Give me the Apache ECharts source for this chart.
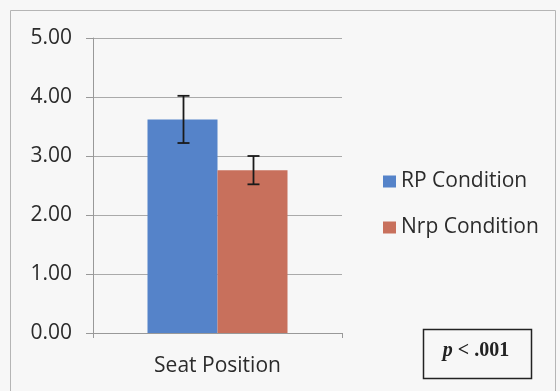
<!DOCTYPE html>
<html><head><meta charset="utf-8">
<script src="https://cdn.jsdelivr.net/npm/echarts@6/dist/echarts.min.js"></script>
<style>html,body{margin:0;padding:0;background:#f7f7f7;}#c{width:560px;height:391px;}</style>
</head><body><div id="c"></div>
<script>
const categories = ['Seat Position'];
const seriesNames = ['RP Condition', 'Nrp Condition'];
const rpValues = [3.62];
const nrpValues = [2.76];
const rpErrLow = [3.22];
const rpErrHigh = [4.02];
const nrpErrLow = [2.52];
const nrpErrHigh = [3.00];
const yTicks = [0, 1, 2, 3, 4, 5];
const colors = ['#5583c9', '#c8705c'];

const chart = echarts.init(document.getElementById('c'));
const font = '"Open Sans", Lato, sans-serif';

function errSeries(low, high, idx) {
  return {
    type: 'custom',
    z: 10,
    data: low.map((l, i) => [i, l, high[i]]),
    renderItem: function (params, api) {
      const xi = api.value(0);
      const lowP = api.coord([xi, api.value(1)]);
      const highP = api.coord([xi, api.value(2)]);
      const bw = 70;
      const cx = Math.round(lowP[0] + (idx === 0 ? -bw / 2 : bw / 2)) + 0.5;
      const hw = 6;
      const st = { stroke: '#1a1a1a', lineWidth: 1.8 };
      return { type: 'group', children: [
        { type: 'line', shape: { x1: cx, y1: highP[1], x2: cx, y2: lowP[1] }, style: st },
        { type: 'line', shape: { x1: cx - hw, y1: highP[1], x2: cx + hw, y2: highP[1] }, style: st },
        { type: 'line', shape: { x1: cx - hw, y1: lowP[1], x2: cx + hw, y2: lowP[1] }, style: st }
      ]};
    }
  };
}

chart.setOption({
  backgroundColor: '#f7f7f7',
  animation: false,
  grid: { left: 93, right: 218, top: 38, bottom: 58 },
  legend: {
    orient: 'vertical', left: 378, top: 166, itemWidth: 13, itemHeight: 12, itemGap: 25, itemStyle: { borderWidth: 0 },
    data: seriesNames,
    textStyle: { fontFamily: font, fontSize: 21, color: '#2b2b2b' },
    icon: 'rect'
  },
  xAxis: {
    type: 'category', data: categories,
    axisLine: { lineStyle: { color: '#999' } },
    axisTick: { show: true, length: 5, lineStyle: { color: '#999' } },
    axisLabel: { fontFamily: font, fontSize: 21, color: '#2b2b2b', margin: 23 }
  },
  yAxis: {
    type: 'value', min: 0, max: 5, interval: 1,
    axisLine: { show: true, lineStyle: { color: '#999' } },
    axisTick: { show: true, length: 7, lineStyle: { color: '#999' } },
    splitLine: { lineStyle: { color: '#aaa' } },
    axisLabel: { fontFamily: font, fontSize: 21, color: '#2b2b2b', margin: 21,
      formatter: v => yTicks.includes(v) ? v.toFixed(2) : '' }
  },
  series: [
    { name: seriesNames[0], type: 'bar', data: rpValues, barWidth: 70, barGap: '0%', itemStyle: { color: colors[0] } },
    { name: seriesNames[1], type: 'bar', data: nrpValues, barWidth: 70, barGap: '0%', itemStyle: { color: colors[1] } },
    errSeries(rpErrLow, rpErrHigh, 0),
    errSeries(nrpErrLow, nrpErrHigh, 1)
  ],
  graphic: [
    { type: 'rect', shape: { x: 10.5, y: 10.5, width: 545, height: 390 }, style: { fill: 'none', stroke: '#b5b5b5', lineWidth: 1 }, silent: true },
    { type: 'rect', shape: { x: 423.5, y: 329.5, width: 108, height: 49 }, style: { fill: '#f7f7f7', stroke: '#222', lineWidth: 1.5 } },
    { type: 'text', x: 476, y: 351, style: {
      text: '{i|p}{b| < .001}', align: 'center', verticalAlign: 'middle',
      rich: {
        i: { fontFamily: '"Liberation Serif", serif', fontStyle: 'italic', fontWeight: 'bold', fontSize: 20, fill: '#222' },
        b: { fontFamily: '"Liberation Serif", serif', fontWeight: 'bold', fontSize: 20, fill: '#222' }
      }
    } }
  ]
});
</script></body></html>
